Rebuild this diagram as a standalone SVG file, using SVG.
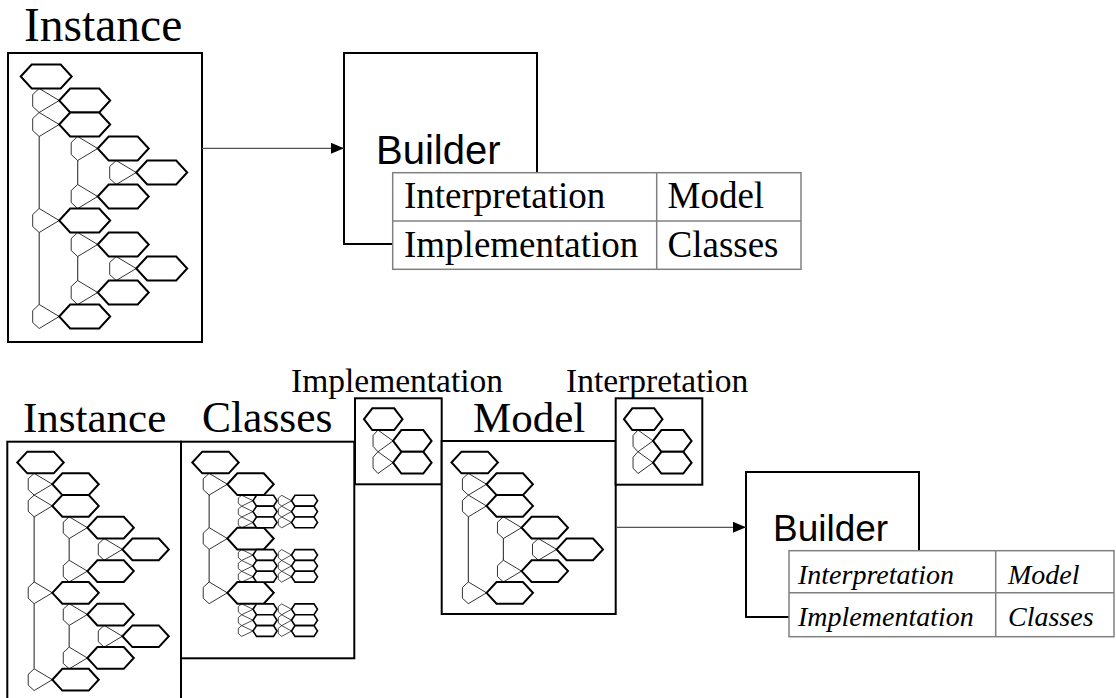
<svg xmlns="http://www.w3.org/2000/svg" width="1116" height="698" viewBox="0 0 1116 698">
<style>
.box{fill:#fff;stroke:#000;stroke-width:2}
.tbl{fill:#fff;stroke:#808080;stroke-width:1.5}
.tl{stroke:#808080;stroke-width:1.5}
.hx{fill:#fff;stroke:#000;stroke-width:2;vector-effect:non-scaling-stroke}
.pg{fill:none;stroke:#000;stroke-width:0.8;vector-effect:non-scaling-stroke}
.sp{stroke:#333;stroke-width:1.1;vector-effect:non-scaling-stroke}
.shx{fill:#fff;stroke:#000;stroke-width:1.6}
.spg{fill:none;stroke:#000;stroke-width:0.7}
.serif{font-family:"Liberation Serif","Times New Roman",serif;fill:#000}
.sans{font-family:"Liberation Sans",Arial,sans-serif;fill:#000}
.conn{stroke:#555;stroke-width:1.3;fill:none}
</style>
<defs>
<marker id="ah" markerUnits="userSpaceOnUse" markerWidth="13" markerHeight="11" refX="13" refY="5.5" orient="auto"><path d="M0,0 L13,5.5 L0,11 z" fill="#000"/></marker>
<g id="tri">
<polygon class="pg" points="18.5,12 12,18 12,30 18.5,36 38.5,24"/>
<polygon class="pg" points="18.5,36 12,42 12,54 18.5,60 38.5,48"/>
<polygon class="hx" points="0,0 11,-12 40,-12 51,0 40,12 11,12"/>
<polygon class="hx" points="38.5,24 49.5,12 78.5,12 89.5,24 78.5,36 49.5,36"/>
<polygon class="hx" points="38.5,48 49.5,36 78.5,36 89.5,48 78.5,60 49.5,60"/>
</g>
<g id="subB">
<line class="sp" x1="57" y1="84" x2="57" y2="108"/>
<polygon class="pg" points="57,60 50.5,66 50.5,78 57,84 77,72"/>
<polygon class="pg" points="95.5,84 89,90 89,102 95.5,108 115.5,96"/>
<polygon class="pg" points="57,108 50.5,114 50.5,126 57,132 77,120"/>
<polygon class="hx" points="77,72 88,60 117,60 128,72 117,84 88,84"/>
<polygon class="hx" points="115.5,96 126.5,84 155.5,84 166.5,96 155.5,108 126.5,108"/>
<polygon class="hx" points="77,120 88,108 117,108 128,120 117,132 88,132"/>
</g>
<g id="nodeC">
<polygon class="pg" points="18.5,132 12,138 12,150 18.5,156 38.5,144"/>
<polygon class="hx" points="38.5,144 49.5,132 78.5,132 89.5,144 78.5,156 49.5,156"/>
</g>
<g id="fulltree">
<line class="sp" x1="18.5" y1="60" x2="18.5" y2="132"/>
<line class="sp" x1="18.5" y1="156" x2="18.5" y2="228"/>
<use href="#tri"/>
<use href="#subB"/>
<use href="#nodeC"/>
<use href="#subB" transform="translate(0,96)"/>
<use href="#nodeC" transform="translate(0,96)"/>
</g>
<g id="modeltree">
<line class="sp" x1="18.5" y1="60" x2="18.5" y2="132"/>
<use href="#tri"/>
<use href="#subB"/>
<use href="#nodeC"/>
</g>
<g id="cell">
<polygon class="spg" points="241.7,-5.4 238.3,-2.7 238.3,2.7 241.7,5.4 253,0"/>
<polygon class="spg" points="281.7,-5.4 278.3,-2.7 278.3,2.7 281.7,5.4 291.5,0"/>
<polygon class="shx" points="253,0 256.5,-5.4 273.5,-5.4 277,0 273.5,5.4 256.5,5.4"/>
<polygon class="shx" points="291.5,0 295,-5.4 314,-5.4 317.5,0 314,5.4 295,5.4"/>
</g>
</defs>
<rect x="0" y="0" width="1116" height="698" fill="#fff"/>

<g id="top-instance">
<text class="serif" x="24" y="41" font-size="47.5">Instance</text>
<rect class="box" x="8" y="53" width="194" height="289"/>
<use href="#fulltree" transform="translate(20.7,76.5)"/>
</g>

<g id="top-builder">
<rect class="box" x="344" y="53" width="193" height="191"/>
<text class="sans" x="376" y="164" font-size="40">Builder</text>
<rect class="tbl" x="392.7" y="172.7" width="408.3" height="96.6"/>
<line class="tl" x1="392.7" y1="221" x2="801" y2="221"/>
<line class="tl" x1="656.7" y1="172.7" x2="656.7" y2="269.3"/>
<text class="serif" x="404" y="208.3" font-size="37">Interpretation</text>
<text class="serif" x="667.5" y="208.3" font-size="37">Model</text>
<text class="serif" x="404" y="256.7" font-size="37">Implementation</text>
<text class="serif" x="667.5" y="256.7" font-size="37">Classes</text>
</g>

<g id="bottom-instance">
<text class="serif" x="23" y="432" font-size="43">Instance</text>
<rect class="box" x="7.3" y="441.7" width="173.7" height="270"/>
<use href="#fulltree" transform="translate(17.3,462.5) scale(0.91,0.905)"/>
</g>

<g id="classes">
<text class="serif" x="202" y="432" font-size="43.5">Classes</text>
<rect class="box" x="181" y="441.7" width="173.3" height="216.6"/>
<g transform="translate(192.3,462.5) scale(0.91,0.905)">
<line class="sp" x1="18.5" y1="36" x2="18.5" y2="72"/>
<line class="sp" x1="18.5" y1="96" x2="18.5" y2="132"/>
<polygon class="pg" points="18.5,12 12,18 12,30 18.5,36 38.5,24"/>
<polygon class="pg" points="18.5,72 12,78 12,90 18.5,96 38.5,84"/>
<polygon class="hx" points="0,0 11,-12 40,-12 51,0 40,12 11,12"/>
<polygon class="hx" points="38.5,24 49.5,12 78.5,12 89.5,24 78.5,36 49.5,36"/>
<polygon class="hx" points="38.5,84 49.5,72 78.5,72 89.5,84 78.5,96 49.5,96"/>
<use href="#nodeC"/>
</g>
<use href="#cell" transform="translate(0,500.7)"/>
<use href="#cell" transform="translate(0,511.6)"/>
<use href="#cell" transform="translate(0,522.4)"/>
<use href="#cell" transform="translate(0,555)"/>
<use href="#cell" transform="translate(0,565.9)"/>
<use href="#cell" transform="translate(0,576.7)"/>
<use href="#cell" transform="translate(0,609.3)"/>
<use href="#cell" transform="translate(0,620.2)"/>
<use href="#cell" transform="translate(0,631)"/>
</g>

<g id="implementation">
<text class="serif" x="291" y="392" font-size="33.5">Implementation</text>
<rect class="box" x="355" y="398.3" width="86.7" height="86"/>
<use href="#tri" transform="translate(364,419.2) scale(0.755,0.905)"/>
</g>

<g id="model">
<text class="serif" x="473" y="432" font-size="43">Model</text>
<rect class="box" x="441.7" y="441" width="174" height="173"/>
<use href="#modeltree" transform="translate(451.5,462.5) scale(0.91,0.905)"/>
</g>

<g id="interpretation">
<text class="serif" x="566" y="392" font-size="33.5">Interpretation</text>
<rect class="box" x="615.7" y="398.3" width="86.6" height="86.4"/>
<use href="#tri" transform="translate(624,419.2) scale(0.755,0.905)"/>
</g>

<g id="bottom-builder">
<rect class="box" x="746" y="472" width="173" height="145"/>
<text class="sans" x="773" y="541" font-size="37">Builder</text>
<rect class="tbl" x="789" y="550.7" width="325" height="86"/>
<line class="tl" x1="789" y1="592.7" x2="1114" y2="592.7"/>
<line class="tl" x1="995.7" y1="550.7" x2="995.7" y2="636.7"/>
<text class="serif" x="798" y="584" font-size="28" font-style="italic">Interpretation</text>
<text class="serif" x="1008" y="584" font-size="28" font-style="italic">Model</text>
<text class="serif" x="798" y="626" font-size="28" font-style="italic">Implementation</text>
<text class="serif" x="1008" y="626" font-size="28" font-style="italic">Classes</text>
</g>

<g id="connectors">
<line class="conn" x1="202" y1="148.3" x2="344" y2="148.3" marker-end="url(#ah)"/>
<line class="conn" x1="616.7" y1="527.3" x2="746" y2="527.3" marker-end="url(#ah)"/>
</g>
</svg>
